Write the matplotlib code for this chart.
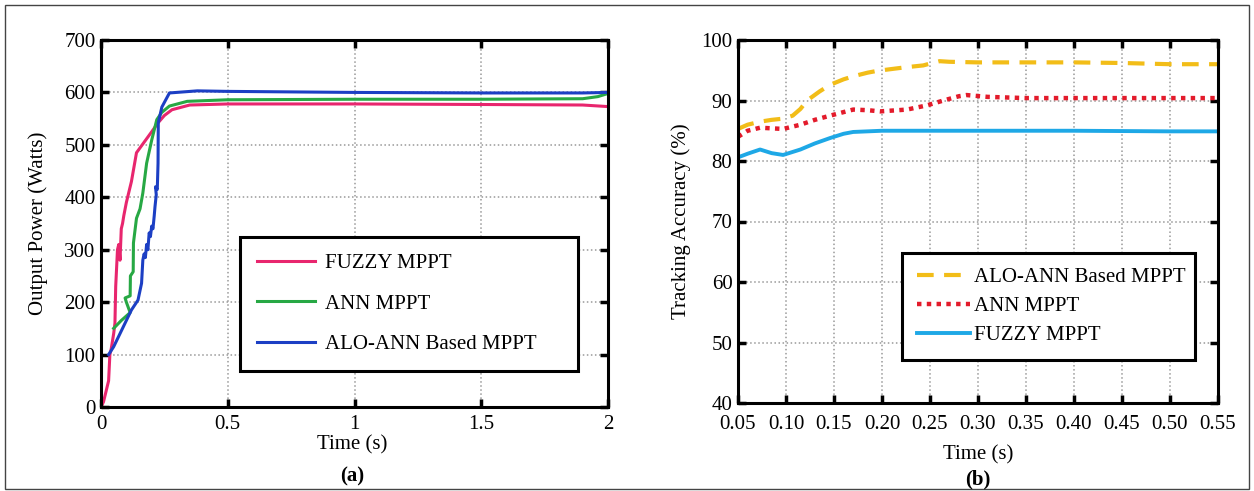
import numpy as np
import matplotlib.pyplot as plt
from matplotlib.patches import Rectangle

plt.rcParams['font.family'] = ['Liberation Serif', 'DejaVu Serif']

# =========================
# Datos (a): potencia de salida
# =========================
fuzzy_a_t = [0, 0.01, 0.02, 0.03, 0.035, 0.04, 0.05, 0.055, 0.058, 0.06, 0.065, 0.07,
             0.075, 0.08, 0.085, 0.09, 0.1, 0.11, 0.12, 0.14, 0.17, 0.2, 0.225, 0.25,
             0.28, 0.35, 0.5, 1.0, 1.5, 1.9, 2.0]
fuzzy_a_p = [0, 10, 30, 50, 100, 110, 140, 160, 230, 250, 300, 310,
             280, 340, 350, 365, 390, 410, 430, 485, 505, 525, 542, 556,
             567, 576, 578, 578, 577, 576, 573]

ann_a_t = [0.05, 0.08, 0.115, 0.10, 0.095, 0.115, 0.116, 0.127, 0.128, 0.14, 0.154,
           0.165, 0.18, 0.2, 0.22, 0.24, 0.27, 0.34, 0.5, 1.0, 1.5, 1.9, 1.96, 2.0]
ann_a_p = [150, 165, 180, 200, 208, 212, 250, 258, 313, 360, 378,
           408, 465, 509, 548, 562, 574, 583, 586, 587, 587, 588, 592, 598]

alo_a_t = [0.03, 0.05, 0.088, 0.12, 0.146, 0.16, 0.165, 0.17, 0.175, 0.18, 0.185, 0.19,
           0.195, 0.2, 0.205, 0.21, 0.213, 0.218, 0.215, 0.222, 0.225, 0.226, 0.24,
           0.27, 0.38, 0.5, 1.0, 1.5, 1.9, 2.0]
alo_a_p = [100, 115, 153, 185, 204, 236, 280, 292, 285, 310, 300, 332,
           325, 345, 340, 365, 382, 405, 420, 415, 465, 542, 572,
           599, 603, 602, 600, 599, 599, 600]

# =========================
# Datos (b): precisión de seguimiento
# =========================
alo_b_t = [0.05, 0.06, 0.073, 0.085, 0.097, 0.107, 0.115, 0.122, 0.135, 0.146, 0.16,
           0.17, 0.185, 0.195, 0.21, 0.225, 0.243, 0.25, 0.26, 0.27, 0.3, 0.35, 0.4,
           0.45, 0.5, 0.55]
alo_b_acc = [85.3, 86.0, 86.5, 86.8, 87.0, 87.5, 88.6, 90.0, 91.5, 92.6, 93.5,
             94.0, 94.6, 94.9, 95.2, 95.5, 95.8, 96.1, 96.5, 96.4, 96.3, 96.3, 96.3,
             96.2, 96.0, 96.0]

ann_b_t = [0.05, 0.06, 0.073, 0.085, 0.097, 0.115, 0.13, 0.146, 0.17, 0.185, 0.198,
           0.226, 0.247, 0.264, 0.28, 0.288, 0.31, 0.35, 0.4, 0.45, 0.5, 0.55]
ann_b_acc = [84.0, 85.0, 85.5, 85.4, 85.3, 86.0, 86.8, 87.5, 88.5, 88.4, 88.2,
             88.5, 89.2, 90.0, 90.7, 90.9, 90.6, 90.4, 90.4, 90.4, 90.4, 90.4]

fuzzy_b_t = [0.05, 0.06, 0.073, 0.085, 0.097, 0.115, 0.13, 0.146, 0.16, 0.17, 0.185,
             0.2, 0.3, 0.4, 0.5, 0.55]
fuzzy_b_acc = [80.6, 81.2, 81.9, 81.3, 81.0, 81.9, 82.9, 83.8, 84.5, 84.8, 84.9,
               85.0, 85.0, 85.0, 84.9, 84.9]

b_ticks = [0.05, 0.10, 0.15, 0.20, 0.25, 0.30, 0.35, 0.40, 0.45, 0.50, 0.55]

W, H = 1254, 491
fig = plt.figure(figsize=(W / 100, H / 100), dpi=100)
fig.patches.append(Rectangle((5 / W, 2 / H), 1244 / W, 484 / H, transform=fig.transFigure,
                             fill=False, edgecolor='#444444', linewidth=1.0))

FS = 15


def estilo(ax, xpad=6):
    for s in ax.spines.values():
        s.set_linewidth(2.2)
    ax.tick_params(direction='in', length=6, width=2.5, top=True, right=True,
                   labelsize=FS)
    ax.tick_params(axis='x', pad=xpad)
    ax.tick_params(axis='y', pad=4)
    ax.grid(True, linestyle=':', color='#999999', linewidth=1.1)


# ---- (a) ----
ax1 = fig.add_axes([101 / W, (H - 407) / H, 507 / W, 367 / H])
ax1.plot(fuzzy_a_t, fuzzy_a_p, color='#e8266e', lw=2.2, label='FUZZY MPPT')
ax1.plot(ann_a_t, ann_a_p, color='#27a844', lw=2.2, label='ANN MPPT')
ax1.plot(alo_a_t, alo_a_p, color='#1c3fc4', lw=2.2, label='ALO-ANN Based MPPT')
ax1.set_xlim(0, 2)
ax1.set_ylim(0, 700)
ax1.set_xticks([0, 0.5, 1, 1.5, 2])
ax1.set_xticklabels(['0', '0.5', '1', '1.5', '2'])
ax1.set_yticks(np.arange(0, 701, 100))
estilo(ax1)
ax1.set_ylabel('Output Power (Watts)', fontsize=FS)
ax1.yaxis.set_label_coords(-0.104, 0.5)
ax1.set_xlabel('Time (s)', fontsize=FS)
ax1.xaxis.set_label_coords(0.495, -0.077)
leg1 = ax1.legend(loc='upper left', bbox_to_anchor=(0.274, 0.09, 0.667, 0.373),
                  mode='expand', fontsize=FS, frameon=True, fancybox=False,
                  edgecolor='black', framealpha=1, borderpad=0.8, labelspacing=1.0,
                  handlelength=2.8, handletextpad=0.48, borderaxespad=0)
leg1.get_frame().set_linewidth(2.2)

# ---- (b) ----
ax2 = fig.add_axes([738 / W, (H - 403) / H, 480 / W, 363 / H])
ax2.plot(alo_b_t, alo_b_acc, color='#f2bd18', lw=3, dashes=(4, 2.5),
         label='ALO-ANN Based MPPT')
ax2.plot(ann_b_t, ann_b_acc, color='#e31b2b', lw=3.2, dashes=(1, 1.2),
         label='ANN MPPT')
ax2.plot(fuzzy_b_t, fuzzy_b_acc, color='#1ea8e6', lw=2.8, label='FUZZY MPPT')
ax2.set_xlim(0.05, 0.55)
ax2.set_ylim(40, 100)
ax2.set_xticks(b_ticks)
ax2.set_xticklabels([f'{v:.2f}' for v in b_ticks])
ax2.set_yticks(np.arange(40, 101, 10))
estilo(ax2, xpad=8.5)
ax2.set_ylabel('Tracking Accuracy (%)', fontsize=FS)
ax2.yaxis.set_label_coords(-0.097, 0.5)
ax2.set_xlabel('Time (s)', fontsize=FS)
ax2.xaxis.set_label_coords(0.5, -0.115)
leg2 = ax2.legend(loc='upper left', bbox_to_anchor=(0.342, 0.1, 0.61, 0.313),
                  mode='expand', fontsize=FS, frameon=True, fancybox=False,
                  edgecolor='black', framealpha=1, borderpad=0.7, labelspacing=0.45,
                  handlelength=2.55, handletextpad=0.2, borderaxespad=0)
leg2.get_frame().set_linewidth(2.2)

fig.text(352 / W, 1 - 476 / H, '(a)', fontsize=FS, fontweight='bold',
         ha='center', va='center')
fig.text(978 / W, 1 - 479 / H, '(b)', fontsize=FS, fontweight='bold',
         ha='center', va='center')

fig.savefig('out.png', dpi=100)
